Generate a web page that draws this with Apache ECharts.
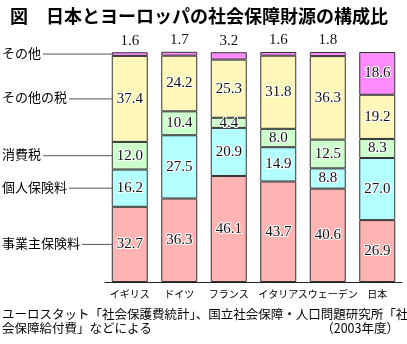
<!DOCTYPE html>
<html><head><meta charset="utf-8">
<script src="https://cdn.jsdelivr.net/npm/echarts@6/dist/echarts.min.js"></script>
<style>html,body{margin:0;padding:0;background:#fff}#c{width:407px;height:344px}</style>
</head><body><div id="c"></div>
<script>
const categories = ['イギリス','ドイツ','フランス','イタリア','スウェーデン','日本'];
const seriesNames = ['事業主保険料','個人保険料','消費税','その他の税','その他'];
const employer    = [32.7, 36.3, 46.1, 43.7, 40.6, 26.9];
const personal    = [16.2, 27.5, 20.9, 14.9,  8.8, 27.0];
const consumption = [12.0, 10.4,  4.4,  8.0, 12.5,  8.3];
const otherTax    = [37.4, 24.2, 25.3, 31.8, 36.3, 19.2];
const other       = [ 1.6,  1.7,  3.2,  1.6,  1.8, 18.6];
const titleText = '図　日本とヨーロッパの社会保障財源の構成比';
const note1 = 'ユーロスタット「社会保護費統計」、国立社会保障・人口問題研究所「社';
const note2 = '会保障給付費」などによる';
const note3 = '（2003年度）';

const colors = ['#FFB4B4','#B4FFFF','#CCFFCC','#FFF6BA','#FF8CFF'];
const seriesData = [employer, personal, consumption, otherTax, other];
const SANS = '"Noto Sans CJK JP", "Noto Sans", sans-serif';
const SERIF = '"Liberation Serif", "DejaVu Serif", serif';
const BAR_W = 36;

const chart = echarts.init(document.getElementById('c'), null, {renderer:'canvas'});

const insideLabel = {
  show: true, position: 'inside', fontFamily: SERIF, fontSize: 15, color: '#111',
  textBorderColor: '#fff', textBorderWidth: 2,
  formatter: p => p.value.toFixed(1)
};

const series = seriesData.map((arr, si) => ({
  name: seriesNames[si], type: 'bar', stack: 'all', barWidth: BAR_W,
  itemStyle: { color: colors[si], borderColor: '#333', borderWidth: 1 },
  label: insideLabel,
  clip: false,
  data: arr.map((v, i) => {
    if (si === 4 && i < 5) {
      return { value: v, label: { show: true, position: 'top', distance: 4, fontFamily: SERIF, fontSize: 15, color: '#111', textBorderWidth: 0, formatter: p => p.value.toFixed(1) } };
    }
    return v;
  })
}));

chart.setOption({
  animation: false,
  title: { text: titleText, left: 5, top: 2, textStyle: { fontFamily: SANS, fontSize: 18, fontWeight: 'bold', color: '#000' } },
  grid: { left: 105, right: 5, top: 52, bottom: 62 },
  xAxis: {
    type: 'category', data: categories,
    axisLine: { lineStyle: { color: '#222', width: 1 } },
    axisTick: { show: false },
    axisLabel: { interval: 0, fontFamily: SANS, fontSize: 10, color: '#000', margin: 7 }
  },
  yAxis: { type: 'value', min: 0, max: 100, show: false },
  series: series
});

// Left-side category labels with leader lines to the first bar, computed from data
const ctx = document.createElement('canvas').getContext('2d');
ctx.font = '13px ' + SANS;
const graphics = [];
let cum = 0;
seriesData.forEach((arr, si) => {
  const v = arr[0];
  const mid = cum + v / 2;
  cum += v;
  const p = chart.convertToPixel({gridIndex: 0}, [0, mid]);
  const barLeft = p[0] - BAR_W / 2;
  const w = ctx.measureText(seriesNames[si]).width;
  graphics.push({ type: 'text', left: 2, top: p[1] - 8, style: { text: seriesNames[si], font: '13px ' + SANS, fill: '#000' } });
  graphics.push({ type: 'line', shape: { x1: 2 + w + 2, y1: p[1], x2: barLeft, y2: p[1] }, style: { stroke: '#555', lineWidth: 1 } });
});
graphics.push({ type: 'text', left: 2, top: 308, style: { text: note1, font: '12.5px ' + SANS, fill: '#000' } });
graphics.push({ type: 'text', left: 2, top: 322, style: { text: note2, font: '12.5px ' + SANS, fill: '#000' } });
graphics.push({ type: 'text', right: 8, top: 322, style: { text: note3, font: '12.5px ' + SANS, fill: '#000' } });
chart.setOption({ graphic: graphics });
</script></body></html>
